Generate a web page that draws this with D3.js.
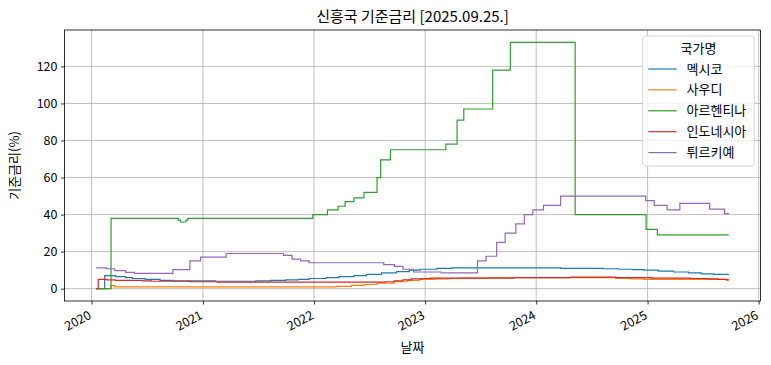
<!DOCTYPE html>
<html>
<head>
<meta charset="utf-8">
<script src="https://cdn.jsdelivr.net/npm/d3@7"></script>
<style>
  html, body { margin: 0; padding: 0; background: #fff; }
  svg { display: block; }
  text { font-family: "Noto Sans CJK KR", "Noto Sans", sans-serif; fill: #000; }
</style>
</head>
<body>
<svg id="chart" width="771" height="365"></svg>
<script>
// ---------- DATA ----------
const categories = ["멕시코", "사우디", "아르헨티나", "인도네시아", "튀르키예"];
const yTicks = [0, 20, 40, 60, 80, 100, 120];
const xTickYears = [2020, 2021, 2022, 2023, 2024, 2025, 2026];

const mexico = [
  ["2020-01-16",0],["2020-02-13",7.0],["2020-03-20",6.5],["2020-04-21",6.0],["2020-05-14",5.5],
  ["2020-06-25",5.0],["2020-08-13",4.5],["2020-09-24",4.25],["2021-02-11",4.0],["2021-06-24",4.25],
  ["2021-08-12",4.5],["2021-09-30",4.75],["2021-11-11",5.0],["2021-12-16",5.5],["2022-02-10",6.0],
  ["2022-03-24",6.5],["2022-05-12",7.0],["2022-06-23",7.75],["2022-08-11",8.5],["2022-09-29",9.25],
  ["2022-11-10",10.0],["2022-12-15",10.5],["2023-02-09",11.0],["2023-03-30",11.25],["2024-03-21",11.0],
  ["2024-08-08",10.75],["2024-09-26",10.5],["2024-11-14",10.25],["2024-12-19",10.0],["2025-02-06",9.5],
  ["2025-03-27",9.0],["2025-05-15",8.5],["2025-06-26",8.0],["2025-08-07",7.75],["2025-09-25",7.75]
];
const saudi = [
  ["2020-01-16",0],["2020-03-04",1.75],["2020-03-16",1.0],["2022-03-16",1.25],["2022-05-04",1.75],
  ["2022-06-15",2.25],["2022-07-27",3.0],["2022-09-21",3.75],["2022-11-02",4.5],["2022-12-14",5.0],
  ["2023-02-01",5.25],["2023-03-22",5.5],["2023-05-03",5.75],["2023-07-26",6.0],["2024-09-18",5.5],
  ["2024-11-07",5.25],["2024-12-18",5.0],["2025-09-17",4.75],["2025-09-25",4.75]
];
const argentina = [
  ["2020-01-16",0],["2020-03-05",38],["2020-10-12",37],["2020-10-19",36],["2020-11-06",37],
  ["2020-11-12",38],["2021-12-28",40],["2022-02-14",42.5],["2022-03-21",44.5],["2022-04-13",47],
  ["2022-05-12",49],["2022-06-14",52],["2022-07-27",60],["2022-08-08",69.5],["2022-09-09",75],
  ["2023-03-10",78],["2023-04-16",91],["2023-05-08",97],["2023-08-11",118],["2023-10-08",133],
  ["2024-05-08",40],["2024-12-27",32],["2025-02-02",29],["2025-09-25",29]
];
const indonesia = [
  ["2020-01-16",0],["2020-01-23",5.0],["2020-02-20",4.75],["2020-03-19",4.5],["2020-06-18",4.25],
  ["2020-07-16",4.0],["2020-11-19",3.75],["2021-02-18",3.5],["2022-08-23",3.75],["2022-09-22",4.25],
  ["2022-10-20",4.75],["2022-11-17",5.25],["2022-12-22",5.5],["2023-01-19",5.75],["2023-10-19",6.0],
  ["2024-04-24",6.25],["2024-09-18",6.0],["2025-01-15",5.75],["2025-05-21",5.5],["2025-07-16",5.25],
  ["2025-08-20",5.0],["2025-09-17",4.75],["2025-09-25",4.75]
];
const turkey = [
  ["2020-01-16",11.25],["2020-02-19",10.75],["2020-03-17",9.75],["2020-04-22",8.75],["2020-05-21",8.25],
  ["2020-09-24",10.25],["2020-11-19",15],["2020-12-24",17],["2021-03-18",19],["2021-09-23",18],
  ["2021-10-21",16],["2021-11-18",15],["2021-12-16",14],["2022-08-18",13],["2022-09-22",12],
  ["2022-10-20",10.5],["2022-11-24",9],["2023-02-23",8.5],["2023-06-22",15],["2023-07-20",17.5],
  ["2023-08-24",25],["2023-09-21",30],["2023-10-26",35],["2023-11-23",40],["2023-12-21",42.5],
  ["2024-01-25",45],["2024-03-21",50],["2024-12-26",47.5],["2025-01-23",45],["2025-03-06",42.5],
  ["2025-04-17",46],["2025-07-24",43],["2025-09-11",40.5],["2025-09-25",40.5]
];
const seriesData = [mexico, saudi, argentina, indonesia, turkey];
const colors = ["#1f77b4", "#ff7f0e", "#2ca02c", "#d62728", "#9467bd"];

// ---------- LAYOUT ----------
const L = 64.5, R = 760.5, T = 30, B = 301;
const parse = d3.timeParse("%Y-%m-%d");
const series = seriesData.map(s => s.map(([d, v]) => ({ date: parse(d), value: v })));

const allDates = series.flat().map(d => d.date);
const dMin = d3.min(allDates), dMax = d3.max(allDates);
const span = dMax - dMin;
const x = d3.scaleTime()
  .domain([new Date(+dMin - 0.05 * span), new Date(+dMax + 0.05 * span)])
  .range([L, R]);

const vMax = d3.max(series.flat(), d => d.value), vMin = 0;
const vSpan = vMax - vMin;
const y = d3.scaleLinear()
  .domain([vMin - 0.05 * vSpan, vMax + 0.05 * vSpan])
  .range([B, T]);

const svg = d3.select("#chart");

// grid
const grid = svg.append("g");
xTickYears.forEach(yr => {
  const xx = x(new Date(yr, 0, 1));
  if (xx >= L && xx <= R)
    grid.append("line").attr("x1", xx).attr("x2", xx).attr("y1", T).attr("y2", B)
      .attr("stroke", "#b0b0b0").attr("stroke-width", 0.8);
});
yTicks.forEach(v => {
  grid.append("line").attr("x1", L).attr("x2", R).attr("y1", y(v)).attr("y2", y(v))
    .attr("stroke", "#b0b0b0").attr("stroke-width", 0.8);
});

// clip
svg.append("clipPath").attr("id", "clip").append("rect")
  .attr("x", L).attr("y", T).attr("width", R - L).attr("height", B - T);

// lines
const line = d3.line().x(d => x(d.date)).y(d => y(d.value)).curve(d3.curveStepAfter);
const lg = svg.append("g").attr("clip-path", "url(#clip)");
series.forEach((s, i) => {
  lg.append("path").datum(s).attr("d", line)
    .attr("fill", "none").attr("stroke", colors[i]).attr("stroke-width", 1.2)
    .attr("stroke-linejoin", "miter");
});

// axes
const xAxis = d3.axisBottom(x)
  .tickValues(xTickYears.map(yr => new Date(yr, 0, 1)))
  .tickFormat(d3.timeFormat("%Y")).tickSize(3.5).tickSizeOuter(0);
const gx = svg.append("g").attr("transform", `translate(0,${B})`).call(xAxis);
gx.select(".domain").remove();
gx.selectAll(".tick line").attr("stroke", "#000").attr("stroke-width", 0.8);
gx.selectAll(".tick text")
  .attr("font-size", 12.5)
  .attr("text-anchor", "end")
  .attr("y", 0).attr("dy", 0)
  .attr("transform", "translate(0,17) rotate(-28)");

const yAxis = d3.axisLeft(y).tickValues(yTicks).tickSize(3.5).tickSizeOuter(0);
const gy = svg.append("g").attr("transform", `translate(${L},0)`).call(yAxis);
gy.select(".domain").remove();
gy.selectAll(".tick line").attr("stroke", "#000").attr("stroke-width", 0.8);
gy.selectAll(".tick text").attr("font-size", 12.5).attr("x", -7);

// spines
svg.append("rect").attr("x", L).attr("y", T).attr("width", R - L).attr("height", B - T)
  .attr("fill", "none").attr("stroke", "#000").attr("stroke-width", 0.8);

// title & labels
svg.append("text").attr("x", (L + R) / 2).attr("y", 22).attr("text-anchor", "middle")
  .attr("font-size", 15).text("신흥국 기준금리 [2025.09.25.]");
svg.append("text").attr("x", (L + R) / 2).attr("y", 352).attr("text-anchor", "middle")
  .attr("font-size", 13).text("날짜");
svg.append("text").attr("transform", `translate(19,${(T + B) / 2}) rotate(-90)`)
  .attr("text-anchor", "middle").attr("font-size", 13).text("기준금리(%)");

// legend
const lgX = 642.7, lgY = 36, lgW = 111.6, lgH = 130;
const leg = svg.append("g");
leg.append("rect").attr("x", lgX).attr("y", lgY).attr("width", lgW).attr("height", lgH)
  .attr("rx", 3).attr("fill", "#fff").attr("fill-opacity", 0.8)
  .attr("stroke", "#cccccc").attr("stroke-width", 0.8);
leg.append("text").attr("x", lgX + lgW / 2).attr("y", 53).attr("text-anchor", "middle")
  .attr("font-size", 13).text("국가명");
categories.forEach((c, i) => {
  const cy = 69 + i * 20.9;
  leg.append("line").attr("x1", 648.3).attr("x2", 676.7).attr("y1", cy).attr("y2", cy)
    .attr("stroke", colors[i]).attr("stroke-width", 1.2);
  leg.append("text").attr("x", 686.5).attr("y", cy + 4.5).attr("font-size", 13).text(c);
});
</script>
</body>
</html>
